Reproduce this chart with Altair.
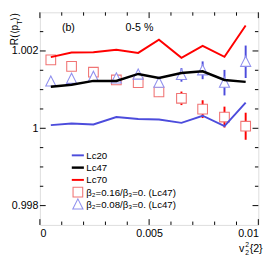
import altair as alt
import pandas as pd

# ---- data ----
x_vals = [0.0005, 0.00145, 0.00245, 0.0035, 0.0045, 0.00545, 0.00648, 0.00745, 0.00845, 0.00942]
lc20 = [1.0000825, 1.000125, 1.0001, 1.00029, 1.00024, 1.000225, 1.00014, 1.000325, 1.0000575, 1.000665]
lc47 = [1.001075, 1.001125, 1.001225, 1.001225, 1.001405, 1.0013, 1.00143, 1.001475, 1.00125, 1.0012]
lc70 = [1.00184, 1.00196, 1.001965, 1.00203, 1.00195, 1.00229, 1.001825, 1.00213, 1.00185, 1.00266]
beta016 = [1.00177, 1.0016, 1.00145, 1.00125, 1.00118, 1.00094, 1.000775, 1.000495, 1.00029, 1.000053]
beta016_err = [0, 0, 0, 0, 0, 0.00012, 0.000175, 0.00023, 0.00027, 0.00035]
beta008 = [1.00121, 1.00128, 1.00133, 1.00129, 1.00139, 1.00118, 1.00138, 1.0015, 1.00118, 1.00172]
beta008_err = [0, 0, 0, 0, 0, 0, 0.000175, 0.00023, 0.00033, 0.00042]

x_major = [0, 0.005, 0.01]
x_minor = [0.001, 0.002, 0.003, 0.004, 0.006, 0.007, 0.008, 0.009]
y_major = [0.998, 1.0, 1.002]
y_minor = [0.9985, 0.999, 0.9995, 1.0005, 1.001, 1.0015, 1.0025]

legend_labels = ["Lc20", "Lc47", "Lc70", "β₂=0.16/β₃=0. (Lc47)", "β₂=0.08/β₃=0. (Lc47)"]

# ---- styling ----
W, H = 226, 220
FONT = "Liberation Sans"
BLUE = "#4c4cdc"
RED = "#ff0000"
SQ = "#f07474"
TRI = "#9090ee"

df = pd.DataFrame({"x": x_vals, "lc20": lc20, "lc47": lc47, "lc70": lc70,
                   "b16": beta016, "b16e": beta016_err, "b08": beta008, "b08e": beta008_err})
df["b16lo"] = df["b16"] - df["b16e"]
df["b16hi"] = df["b16"] + df["b16e"]
df["b08lo"] = df["b08"] - df["b08e"]
df["b08hi"] = df["b08"] + df["b08e"]

xs = alt.Scale(domain=[0, 0.01], nice=False, zero=False)
ys = alt.Scale(domain=[0.9975, 1.003], nice=False, zero=False)
xaxis = alt.Axis(values=x_major, format="~g", ticks=False, domain=False, grid=False,
                 labelPadding=3, labelFontSize=11, labelFont=FONT, labelColor="black", title=None)
yaxis = alt.Axis(values=y_major, format="~g", ticks=False, domain=False, grid=False,
                 labelPadding=2, labelFontSize=11, labelFont=FONT, labelColor="black", title=None)


def X(f):
    return alt.X(f, type="quantitative", scale=xs, axis=xaxis)


def Y(f):
    return alt.Y(f, type="quantitative", scale=ys, axis=yaxis)


base = alt.Chart(df)
layers = []

# error bars
layers.append(base.transform_filter("datum.b16e > 0").mark_rule(color=RED, strokeWidth=2).encode(
    x=X("x"), y=Y("b16lo"), y2="b16hi"))
layers.append(base.transform_filter("datum.b08e > 0").mark_rule(color=BLUE, strokeWidth=2).encode(
    x=X("x"), y=Y("b08lo"), y2="b08hi"))

# markers
tri_shape = "M0,-1.1L1,0.9L-1,0.9Z"
layers.append(base.mark_point(shape="square", size=100, filled=True, fill="white", stroke=SQ,
                              strokeWidth=1.1, opacity=1).encode(x=X("x"), y=Y("b16")))
layers.append(base.mark_point(shape=tri_shape, size=110, filled=True, fill="white", stroke=TRI,
                              strokeWidth=1.1, opacity=1).encode(x=X("x"), y=Y("b08")))

# lines
layers.append(base.mark_line(color=BLUE, strokeWidth=2).encode(x=X("x"), y=Y("lc20")))
layers.append(base.mark_line(color="black", strokeWidth=2.5).encode(x=X("x"), y=Y("lc47")))
layers.append(base.mark_line(color=RED, strokeWidth=2).encode(x=X("x"), y=Y("lc70")))

# inward ticks
def yticks(vals, ln):
    d = alt.Chart(pd.DataFrame({"v": vals}))
    return [
        d.mark_rule(color="black", strokeWidth=1).encode(y=Y("v"), x=alt.value(0), x2=alt.value(ln)),
        d.mark_rule(color="black", strokeWidth=1).encode(y=Y("v"), x=alt.value(W), x2=alt.value(W - ln)),
    ]


def xticks(vals, ln):
    d = alt.Chart(pd.DataFrame({"v": vals}))
    return [
        d.mark_rule(color="black", strokeWidth=1).encode(x=X("v"), y=alt.value(H), y2=alt.value(H - ln)),
        d.mark_rule(color="black", strokeWidth=1).encode(x=X("v"), y=alt.value(0), y2=alt.value(ln)),
    ]


layers += yticks(y_major, 6) + yticks(y_minor, 3.5) + xticks(x_major, 6) + xticks(x_minor, 3.5)

# legend
row_y = [148, 160.7, 173.4, 186.1, 198.8]
line_cols = [BLUE, "black", RED]
one = alt.Chart(pd.DataFrame({"a": [0]}))
for i in range(3):
    layers.append(one.mark_rule(color=line_cols[i], strokeWidth=2.5 if i == 1 else 2).encode(
        x=alt.value(33), x2=alt.value(45.5), y=alt.value(row_y[i])))
layers.append(one.mark_point(shape="square", size=100, filled=True, fill="white", stroke=SQ,
                             strokeWidth=1.1, opacity=1).encode(x=alt.value(39.3), y=alt.value(row_y[3])))
layers.append(one.mark_point(shape=tri_shape, size=110, filled=True, fill="white", stroke=TRI,
                             strokeWidth=1.1, opacity=1).encode(x=alt.value(39.3), y=alt.value(row_y[4])))
for i, lab in enumerate(legend_labels):
    layers.append(one.mark_text(text=lab, font=FONT, fontSize=10, align="left", baseline="middle",
                                color="black").encode(x=alt.value(48), y=alt.value(row_y[i] + 0.5)))

# annotations
layers.append(one.mark_text(text="(b)", font=FONT, fontSize=11, align="center", baseline="middle",
                            color="black").encode(x=alt.value(29.5), y=alt.value(16)))
layers.append(one.mark_text(text="0-5 %", font=FONT, fontSize=11, align="center", baseline="middle",
                            color="black").encode(x=alt.value(103), y=alt.value(16)))

# y title  R(<p_T>)  (rotated, reads bottom to top)
layers.append(one.mark_text(text="R(⟨p", font=FONT, fontSize=10.5, angle=270, align="left",
                            baseline="alphabetic", color="black").encode(x=alt.value(-22.5), y=alt.value(34)))
layers.append(one.mark_text(text="T", font=FONT, fontSize=7.5, angle=270, align="left",
                            baseline="alphabetic", color="black").encode(x=alt.value(-19), y=alt.value(13)))
layers.append(one.mark_text(text="⟩)", font=FONT, fontSize=10.5, angle=270, align="left",
                            baseline="alphabetic", color="black").encode(x=alt.value(-22.5), y=alt.value(8.5)))

# x title  v_2^2{2}
layers.append(one.mark_text(text="v", font=FONT, fontSize=11, align="left", baseline="alphabetic",
                            color="black").encode(x=alt.value(206), y=alt.value(248.5)))
layers.append(one.mark_text(text="2", font=FONT, fontSize=7, align="left", baseline="alphabetic",
                            color="black").encode(x=alt.value(212.5), y=alt.value(243)))
layers.append(one.mark_text(text="2", font=FONT, fontSize=7, align="left", baseline="alphabetic",
                            color="black").encode(x=alt.value(212.5), y=alt.value(251)))
layers.append(one.mark_text(text="{2}", font=FONT, fontSize=11, align="left", baseline="alphabetic",
                            color="black").encode(x=alt.value(217), y=alt.value(248.5)))

chart = alt.layer(*layers).properties(
    width=W, height=H,
    autosize=alt.AutoSizeParams(type="none"),
    padding={"left": 33, "top": 0, "right": 10, "bottom": 37},
).configure_view(stroke="black", strokeWidth=1).configure(background="white")

chart.save("out.html", embed_options={"renderer": "svg", "actions": False})
